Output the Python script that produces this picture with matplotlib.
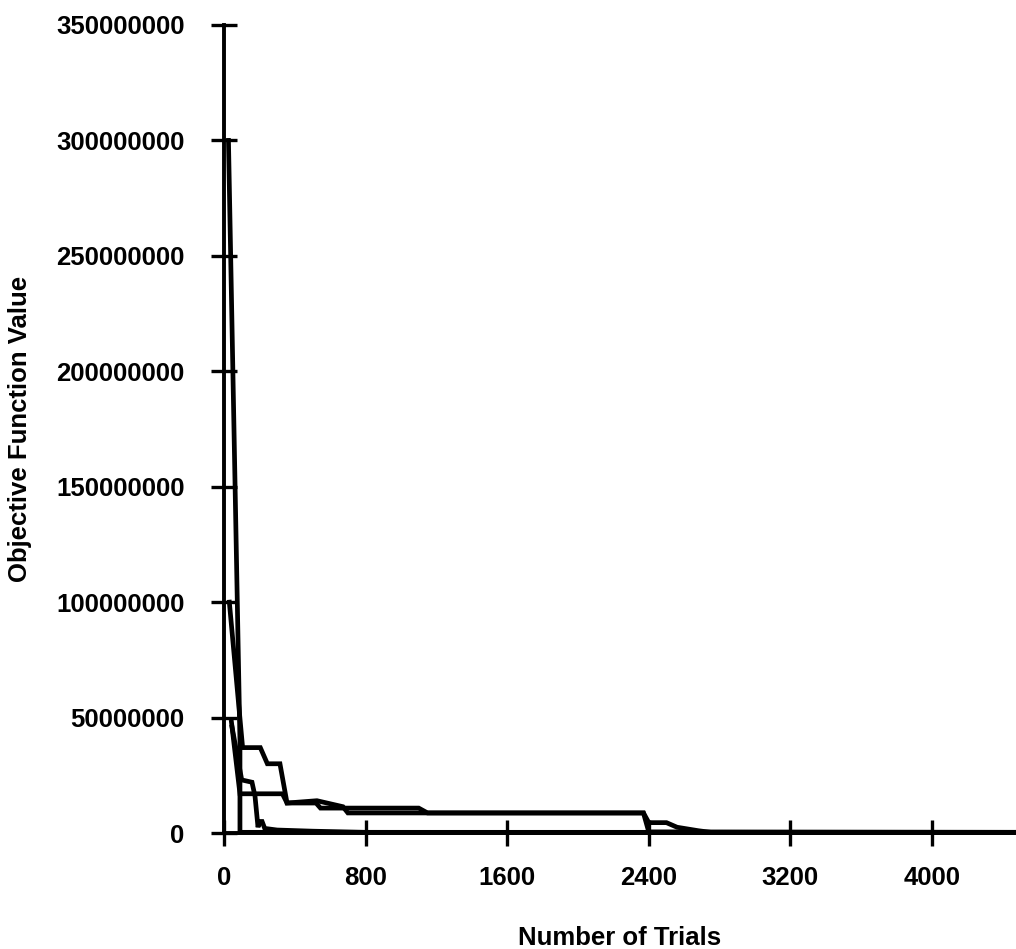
import matplotlib
matplotlib.use("Agg")
import matplotlib.pyplot as plt
from matplotlib.ticker import FuncFormatter

# runs of the search, trials vs objective value
run1_trials = [25, 90, 90, 4475]
run1_values = [300e6, 40e6, 0.3e6, 0.3e6]

run2_trials = [30, 105, 205, 245, 316, 356, 520, 545, 1100, 1150, 2370, 2400, 2500, 2560, 2680, 2750, 4475]
run2_values = [100e6, 37e6, 37e6, 30e6, 30e6, 13e6, 13e6, 10.8e6, 10.8e6, 8.7e6, 8.7e6, 4.5e6, 4.5e6, 2.5e6, 1.0e6, 0.3e6, 0.3e6]

run3_trials = [42, 90, 330, 356, 525, 672, 700, 2370, 2400, 4475]
run3_values = [48e6, 17e6, 17e6, 13e6, 14e6, 11.4e6, 8.7e6, 8.7e6, 0.5e6, 0.3e6]

run4_trials = [45, 100, 158, 175, 192, 200, 215, 230, 300, 500, 800, 4475]
run4_values = [46e6, 23e6, 22e6, 16e6, 2.5e6, 5e6, 5e6, 2e6, 1.3e6, 0.8e6, 0.3e6, 0.2e6]

x_ticks = [0, 800, 1600, 2400, 3200, 4000]
y_ticks = [0, 50e6, 100e6, 150e6, 200e6, 250e6, 300e6, 350e6]

plt.rcParams['font.family'] = ['Liberation Sans', 'DejaVu Sans']
plt.rcParams['font.weight'] = 'bold'

fig = plt.figure(figsize=(10.16, 9.49), dpi=100)
ax = fig.add_axes([0.2205, 0.1222, 0.7795, 0.8515])

for t, v in [(run1_trials, run1_values), (run2_trials, run2_values),
             (run3_trials, run3_values), (run4_trials, run4_values)]:
    ax.plot(t, v, color='black', lw=3.4, solid_joinstyle='miter', clip_on=False)

ax.set_xlim(0, 4475)
ax.set_ylim(0, 350e6)
ax.set_xticks(x_ticks)
ax.set_yticks(y_ticks)
ax.yaxis.set_major_formatter(FuncFormatter(lambda v, p: '%d' % v))

for s in ['top', 'right']:
    ax.spines[s].set_visible(False)
for s in ['left', 'bottom']:
    ax.spines[s].set_linewidth(2.8)

ax.tick_params(axis='both', direction='inout', length=19, width=2.4, labelsize=18.5)
ax.tick_params(axis='x', pad=14)
ax.tick_params(axis='y', pad=19)
for lab in ax.get_xticklabels() + ax.get_yticklabels():
    lab.set_fontweight('bold')

ax.set_xlabel('Number of Trials', fontsize=18.5, fontweight='bold')
ax.set_ylabel('Objective Function Value', fontsize=18.5, fontweight='bold')
ax.xaxis.set_label_coords(0.5, -0.115)
ax.yaxis.set_label_coords(-0.242, 0.5)

fig.savefig('out.png', dpi=100)
